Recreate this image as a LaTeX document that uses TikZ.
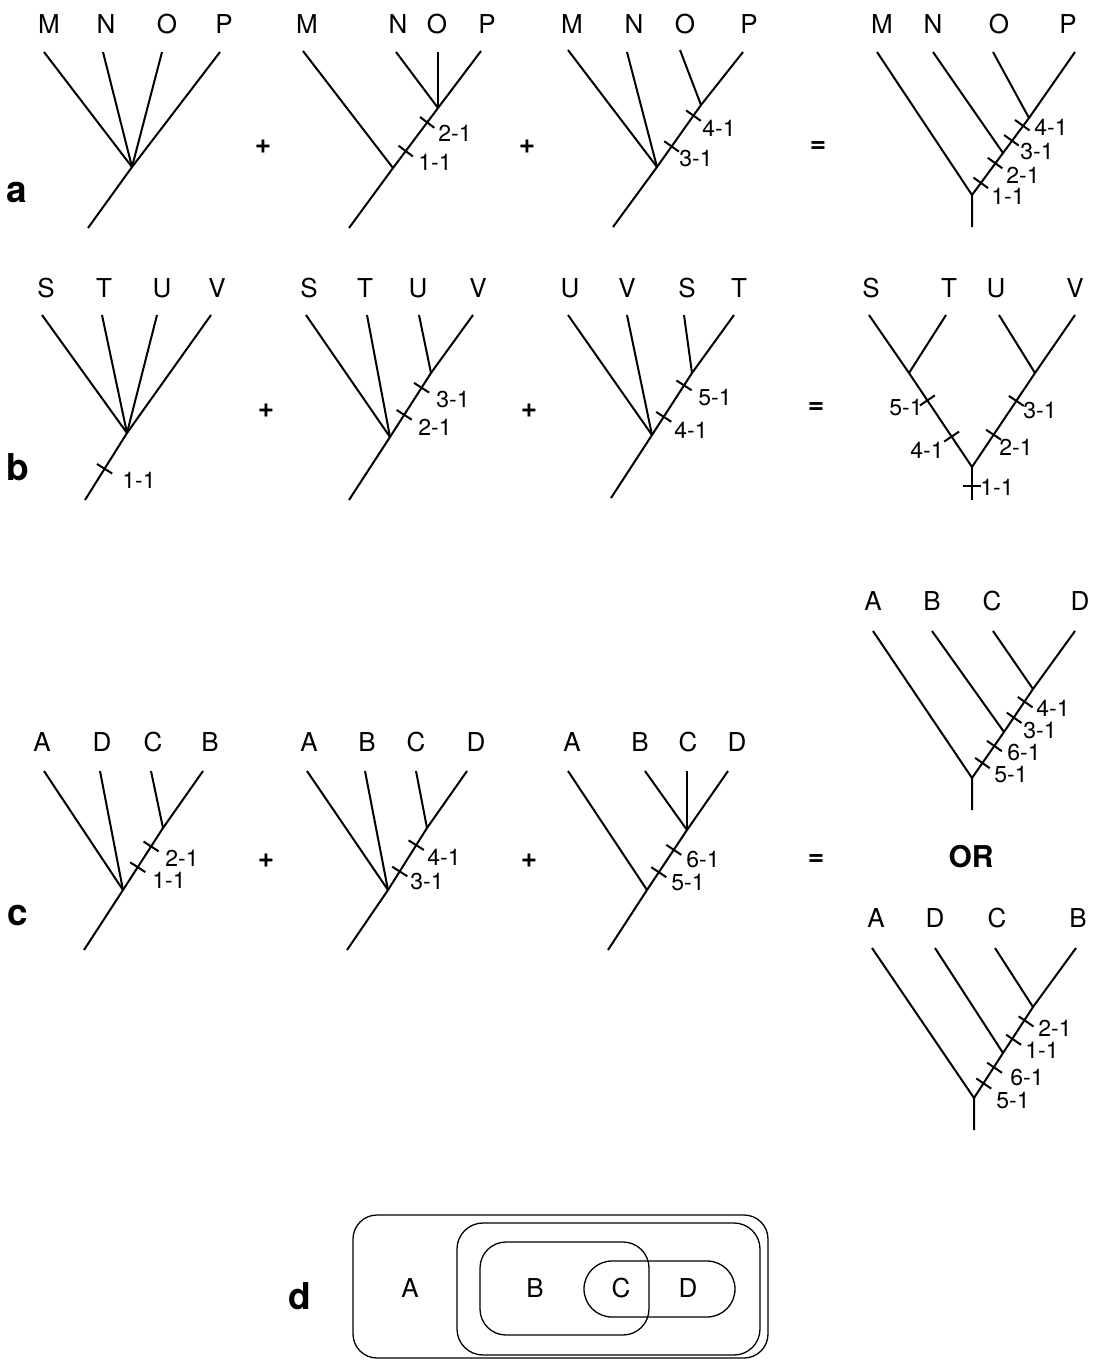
\documentclass[tikz,border=0pt]{standalone}
\usepackage{fontspec}
\setmainfont{TeX Gyre Heros}
\usetikzlibrary{calc}
\newcommand\mytick[4]{\coordinate (#1) at ($(#2)!(#4)!(#3)$); \draw[tk] ($(#1)!9pt!90:(#3)$) -- ($(#1)!9pt!-90:(#3)$);}
\tikzset{
 br/.style={line width=2pt},
 tk/.style={line width=2pt},
 lt/.style={font=\fontsize{26}{26}\selectfont, inner sep=0pt},
 nm/.style={font=\fontsize{23}{23}\selectfont, inner sep=0pt},
 pn/.style={font=\fontsize{37}{37}\selectfont\bfseries, inner sep=0pt},
 orst/.style={font=\fontsize{30}{30}\selectfont\bfseries, inner sep=0pt},
 op/.style={font=\fontsize{28}{28}\selectfont\bfseries, inner sep=0pt},
 bx/.style={line width=1.3pt},
}
\begin{document}
\begin{tikzpicture}[x=1pt,y=-1pt]
\useasboundingbox (0,0) rectangle (1093,1360);
% ---------------- row a ----------------
\node[pn] (pa) at (17,193) {a};
% a1
\node[lt] (a1Ml) at (49,24) {M}; \node[lt] (a1Nl) at (106,24) {N};
\node[lt] (a1Ol) at (167,24) {O}; \node[lt] (a1Pl) at (224,24) {P};
\coordinate (a1M) at (44,52); \coordinate (a1N) at (103,52);
\coordinate (a1O) at (162,52); \coordinate (a1P) at (220,52);
\coordinate (a1j) at (132,167); \coordinate (a1r) at (88,228);
\draw[br] (a1r) -- (a1j) -- (a1P);
\draw[br] (a1M) -- (a1j); \draw[br] (a1N) -- (a1j); \draw[br] (a1O) -- (a1j);
\node[op] (pl1) at (263,147) {+};
% a2
\node[lt] (a2Ml) at (307,24) {M}; \node[lt] (a2Nl) at (398,24) {N};
\node[lt] (a2Ol) at (437,24) {O}; \node[lt] (a2Pl) at (487,24) {P};
\coordinate (a2M) at (303,51); \coordinate (a2N) at (396,52);
\coordinate (a2O) at (438,52); \coordinate (a2P) at (481,51);
\coordinate (a2j2) at (438,108); \coordinate (a2j1) at (393,168); \coordinate (a2r) at (349,228);
\draw[br] (a2r) -- (a2j1) -- (a2j2) -- (a2P);
\draw[br] (a2M) -- (a2j1); \draw[br] (a2N) -- (a2j2); \draw[br] (a2O) -- (a2j2);
\mytick{a2t2}{a2j1}{a2j2}{428,123}
\mytick{a2t1}{a2j1}{a2j2}{407,152}
\node[nm] (a2l2) at (455,133) {2-1}; \node[nm] (a2l1) at (435,162) {1-1};
\node[op] (pl2) at (527,147) {+};
% a3
\node[lt] (a3Ml) at (572,24) {M}; \node[lt] (a3Nl) at (634,24) {N};
\node[lt] (a3Ol) at (685,24) {O}; \node[lt] (a3Pl) at (749,24) {P};
\coordinate (a3M) at (568,50); \coordinate (a3N) at (627,52);
\coordinate (a3O) at (680,50); \coordinate (a3P) at (743,52);
\coordinate (a3j2) at (701,105); \coordinate (a3j1) at (657,167); \coordinate (a3r) at (613,227);
\draw[br] (a3r) -- (a3j1) -- (a3j2) -- (a3P);
\draw[br] (a3M) -- (a3j1); \draw[br] (a3N) -- (a3j1); \draw[br] (a3O) -- (a3j2);
\mytick{a3t4}{a3j1}{a3j2}{694,116}
\mytick{a3t3}{a3j1}{a3j2}{671,146}
\node[nm] (a3l4) at (719,128) {4-1}; \node[nm] (a3l3) at (696,159) {3-1};
\node[op] (eq1) at (818,147) {=};
% a4
\node[lt] (a4Ml) at (882,24) {M}; \node[lt] (a4Nl) at (933,24) {N};
\node[lt] (a4Ol) at (999,24) {O}; \node[lt] (a4Pl) at (1068,24) {P};
\coordinate (a4M) at (877,52); \coordinate (a4N) at (933,52);
\coordinate (a4O) at (993,52); \coordinate (a4P) at (1075,52);
\coordinate (a4j3) at (1029,118); \coordinate (a4j2) at (1003,153);
\coordinate (a4j1) at (972,195); \coordinate (a4r) at (972,227);
\draw[br] (a4r) -- (a4j1) -- (a4j2) -- (a4j3) -- (a4P);
\draw[br] (a4M) -- (a4j1); \draw[br] (a4N) -- (a4j2); \draw[br] (a4O) -- (a4j3);
\mytick{a4t4}{a4j1}{a4P}{1022,125}
\mytick{a4t3}{a4j1}{a4P}{1011,140}
\mytick{a4t2}{a4j1}{a4P}{995,163}
\mytick{a4t1}{a4j1}{a4P}{981,183}
\node[nm] (a4l4) at (1051,127) {4-1}; \node[nm] (a4l3) at (1037,152) {3-1};
\node[nm] (a4l2) at (1023,175) {2-1}; \node[nm] (a4l1) at (1008,196) {1-1};
% ---------------- row b ----------------
\node[pn] (pb) at (18,467) {b};
% b1
\node[lt] (b1Sl) at (46,288) {S}; \node[lt] (b1Tl) at (104,288) {T};
\node[lt] (b1Ul) at (162,288) {U}; \node[lt] (b1Vl) at (217,288) {V};
\coordinate (b1S) at (42,315); \coordinate (b1T) at (102,315);
\coordinate (b1U) at (157,315); \coordinate (b1V) at (211,315);
\coordinate (b1j) at (127,433); \coordinate (b1r) at (85,500);
\draw[br] (b1r) -- (b1j) -- (b1V);
\draw[br] (b1S) -- (b1j); \draw[br] (b1T) -- (b1j); \draw[br] (b1U) -- (b1j);
\mytick{b1t1}{b1r}{b1j}{105,469}
\node[nm] (b1l1) at (139,480) {1-1};
\node[op] (pl3) at (266,411) {+};
% b2
\node[lt] (b2Sl) at (309,288) {S}; \node[lt] (b2Tl) at (365,288) {T};
\node[lt] (b2Ul) at (418,288) {U}; \node[lt] (b2Vl) at (478,288) {V};
\coordinate (b2S) at (306,315); \coordinate (b2T) at (367,315);
\coordinate (b2U) at (419,315); \coordinate (b2V) at (473,315);
\coordinate (b2j2) at (431,373); \coordinate (b2j1) at (390,437); \coordinate (b2r) at (349,500);
\draw[br] (b2r) -- (b2j1) -- (b2j2) -- (b2V);
\draw[br] (b2S) -- (b2j1); \draw[br] (b2T) -- (b2j1); \draw[br] (b2U) -- (b2j2);
\mytick{b2t3}{b2j1}{b2j2}{422,388}
\mytick{b2t2}{b2j1}{b2j2}{406,416}
\node[nm] (b2l3) at (453,400) {3-1}; \node[nm] (b2l2) at (435,427) {2-1};
\node[op] (pl4) at (529,411) {+};
% b3
\node[lt] (b3Ul) at (570,288) {U}; \node[lt] (b3Vl) at (627,288) {V};
\node[lt] (b3Sl) at (687,288) {S}; \node[lt] (b3Tl) at (739,288) {T};
\coordinate (b3U) at (568,315); \coordinate (b3V) at (627,315);
\coordinate (b3S) at (684,315); \coordinate (b3T) at (734,315);
\coordinate (b3j2) at (692,373); \coordinate (b3j1) at (652,435); \coordinate (b3r) at (611,498);
\draw[br] (b3r) -- (b3j1) -- (b3j2) -- (b3T);
\draw[br] (b3U) -- (b3j1); \draw[br] (b3V) -- (b3j1); \draw[br] (b3S) -- (b3j2);
\mytick{b3t5}{b3j1}{b3j2}{685,386}
\mytick{b3t4}{b3j1}{b3j2}{664,417}
\node[nm] (b3l5) at (715,398) {5-1}; \node[nm] (b3l4) at (691,430) {4-1};
\node[op] (eq2) at (816,408) {=};
% b4
\node[lt] (b4Sl) at (871,288) {S}; \node[lt] (b4Tl) at (949,288) {T};
\node[lt] (b4Ul) at (996,288) {U}; \node[lt] (b4Vl) at (1075,288) {V};
\coordinate (b4S) at (869,315); \coordinate (b4T) at (946,315);
\coordinate (b4U) at (999,315); \coordinate (b4V) at (1075,315);
\coordinate (b4jL) at (909,373); \coordinate (b4jR) at (1035,373);
\coordinate (b4j) at (972,467); \coordinate (b4r) at (972,500);
\draw[br] (b4S) -- (b4jL) -- (b4j) -- (b4jR) -- (b4V);
\draw[br] (b4T) -- (b4jL); \draw[br] (b4U) -- (b4jR); \draw[br] (b4j) -- (b4r);
\mytick{b4t5}{b4j}{b4jL}{928,400}
\mytick{b4t4}{b4j}{b4jL}{951,437}
\mytick{b4t3}{b4j}{b4jR}{1015,400}
\mytick{b4t2}{b4j}{b4jR}{994,435}
\mytick{b4t1}{b4r}{b4j}{972,486}
\node[nm] (b4l5) at (906,408) {5-1}; \node[nm] (b4l4) at (927,450) {4-1};
\node[nm] (b4l3) at (1040,411) {3-1}; \node[nm] (b4l2) at (1016,447) {2-1};
\node[nm] (b4l1) at (997,487) {1-1};
% ---------------- row c ----------------
\node[pn] (pc) at (18,915) {c};
% c1
\node[lt] (c1Al) at (42,742) {A}; \node[lt] (c1Dl) at (102,742) {D};
\node[lt] (c1Cl) at (153,742) {C}; \node[lt] (c1Bl) at (210,742) {B};
\coordinate (c1A) at (44,771); \coordinate (c1D) at (100,771);
\coordinate (c1C) at (151,771); \coordinate (c1B) at (203,771);
\coordinate (c1j2) at (163,828); \coordinate (c1j1) at (123,890); \coordinate (c1r) at (84,950);
\draw[br] (c1r) -- (c1j1) -- (c1j2) -- (c1B);
\draw[br] (c1A) -- (c1j1); \draw[br] (c1D) -- (c1j1); \draw[br] (c1C) -- (c1j2);
\mytick{c1t2}{c1j1}{c1j2}{152,847}
\mytick{c1t1}{c1j1}{c1j2}{139,868}
\node[nm] (c1l2) at (182,858) {2-1}; \node[nm] (c1l1) at (169,880) {1-1};
\node[op] (pl5) at (266,861) {+};
% c2
\node[lt] (c2Al) at (309,742) {A}; \node[lt] (c2Bl) at (367,742) {B};
\node[lt] (c2Cl) at (416,742) {C}; \node[lt] (c2Dl) at (476,742) {D};
\coordinate (c2A) at (307,771); \coordinate (c2B) at (365,771);
\coordinate (c2C) at (416,771); \coordinate (c2D) at (467,771);
\coordinate (c2j2) at (427,828); \coordinate (c2j1) at (388,890); \coordinate (c2r) at (347,950);
\draw[br] (c2r) -- (c2j1) -- (c2j2) -- (c2D);
\draw[br] (c2A) -- (c2j1); \draw[br] (c2B) -- (c2j1); \draw[br] (c2C) -- (c2j2);
\mytick{c2t4}{c2j1}{c2j2}{416,845}
\mytick{c2t3}{c2j1}{c2j2}{399,871}
\node[nm] (c2l4) at (444,857) {4-1}; \node[nm] (c2l3) at (427,882) {3-1};
\node[op] (pl6) at (529,861) {+};
% c3
\node[lt] (c3Al) at (572,742) {A}; \node[lt] (c3Bl) at (640,742) {B};
\node[lt] (c3Cl) at (688,742) {C}; \node[lt] (c3Dl) at (737,742) {D};
\coordinate (c3A) at (568,771); \coordinate (c3B) at (645,771);
\coordinate (c3C) at (687,771); \coordinate (c3D) at (728,771);
\coordinate (c3j2) at (687,830); \coordinate (c3j1) at (647,890); \coordinate (c3r) at (608,950);
\draw[br] (c3r) -- (c3j1) -- (c3j2) -- (c3D);
\draw[br] (c3A) -- (c3j1); \draw[br] (c3B) -- (c3j2); \draw[br] (c3C) -- (c3j2);
\mytick{c3t6}{c3j1}{c3j2}{674,850}
\mytick{c3t5}{c3j1}{c3j2}{660,873}
\node[nm] (c3l6) at (703,860) {6-1}; \node[nm] (c3l5) at (688,883) {5-1};
\node[op] (eq3) at (816,860) {=};
% c4
\node[lt] (c4Al) at (873,601) {A}; \node[lt] (c4Bl) at (932,601) {B};
\node[lt] (c4Cl) at (992,601) {C}; \node[lt] (c4Dl) at (1080,601) {D};
\coordinate (c4A) at (873,631); \coordinate (c4B) at (932,631);
\coordinate (c4C) at (993,631); \coordinate (c4D) at (1075,631);
\coordinate (c4j3) at (1033,689); \coordinate (c4j2) at (1004,732);
\coordinate (c4j1) at (972,778); \coordinate (c4r) at (972,810);
\draw[br] (c4r) -- (c4j1) -- (c4j2) -- (c4j3) -- (c4D);
\draw[br] (c4A) -- (c4j1); \draw[br] (c4B) -- (c4j2); \draw[br] (c4C) -- (c4j3);
\mytick{c4t4}{c4j1}{c4D}{1025,702}
\mytick{c4t3}{c4j1}{c4D}{1013,717}
\mytick{c4t6}{c4j1}{c4D}{993,745}
\mytick{c4t5}{c4j1}{c4D}{981,762}
\node[nm] (c4l4) at (1053,708) {4-1}; \node[nm] (c4l3) at (1040,731) {3-1};
\node[nm] (c4l6) at (1024,753) {6-1}; \node[nm] (c4l5) at (1011,775) {5-1};
\node[orst] (or) at (971,857) {OR};
% c5
\node[lt] (c5Al) at (876,918) {A}; \node[lt] (c5Dl) at (935,918) {D};
\node[lt] (c5Cl) at (997,918) {C}; \node[lt] (c5Bl) at (1078,918) {B};
\coordinate (c5A) at (872,948); \coordinate (c5D) at (935,948);
\coordinate (c5C) at (995,948); \coordinate (c5B) at (1076,948);
\coordinate (c5j3) at (1033,1007); \coordinate (c5j2) at (1003,1053);
\coordinate (c5j1) at (974,1098); \coordinate (c5r) at (974,1130);
\draw[br] (c5r) -- (c5j1) -- (c5j2) -- (c5j3) -- (c5B);
\draw[br] (c5A) -- (c5j1); \draw[br] (c5D) -- (c5j2); \draw[br] (c5C) -- (c5j3);
\mytick{c5t2}{c5j1}{c5B}{1027,1022}
\mytick{c5t1}{c5j1}{c5B}{1014,1040}
\mytick{c5t6}{c5j1}{c5B}{995,1068}
\mytick{c5t5}{c5j1}{c5B}{983,1083}
\node[nm] (c5l2) at (1055,1028) {2-1}; \node[nm] (c5l1) at (1042,1050) {1-1};
\node[nm] (c5l6) at (1027,1078) {6-1}; \node[nm] (c5l5) at (1013,1101) {5-1};
% ---------------- part d ----------------
\node[pn] (pd) at (300,1296) {d};
\draw[bx, rounded corners=24pt] (353,1215) rectangle (768,1358);
\draw[bx, rounded corners=26pt] (457,1223) rectangle (760,1355);
\draw[bx, rounded corners=26pt] (480,1242) rectangle (649,1335);
\draw[bx, rounded corners=28pt] (584,1261) rectangle (735,1317);
\node[lt] (dA) at (410,1288) {A}; \node[lt] (dB) at (535,1288) {B};
\node[lt] (dC) at (621,1288) {C}; \node[lt] (dD) at (688,1288) {D};
\end{tikzpicture}
\end{document}
